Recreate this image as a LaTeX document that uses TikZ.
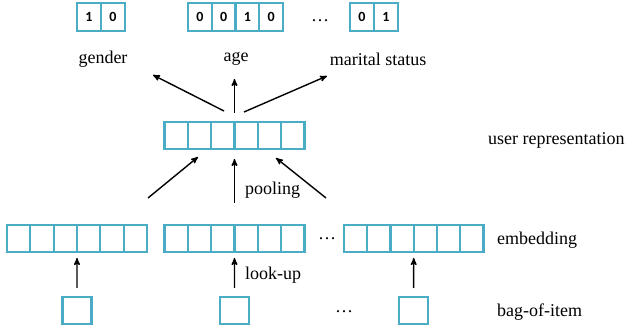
\documentclass[tikz,border=0pt]{standalone}
\usepackage{fontspec}
\setmainfont{Liberation Serif}
\newfontfamily\txtfont{Liberation Serif}
\newfontfamily\bitfont{Carlito}
\usepackage{tikz}
\usetikzlibrary{arrows,positioning}
\usetikzlibrary{calc}
\definecolor{boxblue}{RGB}{75,172,198}
\tikzstyle{repnet}=[x=1pt,y=-1pt,font=\txtfont\fontsize{18}{22}\selectfont]
\tikzstyle{cell}=[rectangle, draw=boxblue,% one slot of a vector
line width=2.2pt,minimum width=23.33pt,minimum height=27pt,inner sep=0pt,outer sep=0pt]
\tikzstyle{bit}=[cell,minimum width=24pt,minimum height=28pt,font=\bitfont\bfseries\fontsize{14}{16}\selectfont]
\tikzstyle{item}=[cell,minimum width=29pt]
\tikzstyle{lbl}=[inner sep=0pt]
\tikzstyle{arr}=[-stealth',line width=1.4pt]

\begin{document}
\begin{tikzpicture}[repnet]
\useasboundingbox (0,0) rectangle (634,328);
%\node at (300,0) {user model};
% one-hot targets
\foreach \d [count=\i] in {1,0} \node[bit] (g\i) at ({77+24*(\i-0.5)},17) {\d};
\foreach \d [count=\i] in {0,0,1,0} \node[bit] (a\i) at ({188+23.75*(\i-0.5)},17) {\d};
\foreach \d [count=\i] in {0,1} \node[bit] (m\i) at ({350+24*(\i-0.5)},17) {\d};
\node[lbl] (topdots) at (320,21) {\ldots};
\node[lbl] (gender) at (103,59) {gender};
\node[lbl] (age) at (236,59) {age};
\node[lbl] (marital) at (378,59) {marital status};
% user representation
\foreach \i in {1,...,6} \node[cell] (u\i) at ({164.5+23.33*(\i-0.5)},135.5) {};
\node[lbl,anchor=west] (userlbl) at (488,140) {user representation};
% embeddings
\foreach \i in {1,...,6} \node[cell] (e1-\i) at ({7+23.33*(\i-0.5)},238.5) {};
\foreach \i in {1,...,6} \node[cell] (e2-\i) at ({164.5+23.33*(\i-0.5)},238.5) {};
\foreach \i in {1,...,6} \node[cell] (e3-\i) at ({344+23.25*(\i-0.5)},238.5) {};
\node[lbl] (embdots) at (327,239) {\ldots};
\node[lbl,anchor=west] (emblbl) at (497,240) {embedding};
% items
\node[item] (b1) at (77,310.5) {};
\node[item] (b2) at (234.5,310.5) {};
\node[item] (b3) at (413.5,310.5) {};
\node[lbl] (itemdots) at (344,312) {\ldots};
\node[lbl,anchor=west] (itemlbl) at (497,312) {bag-of-item};
% arrow ends
\coordinate (tg) at (153,75); \coordinate (tm) at (327,76);
\coordinate (sg) at (224,111); \coordinate (sm) at (244,112);
\coordinate (pl) at (148,198); \coordinate (pr) at (326,198);
\coordinate (ql) at (198,157); \coordinate (qr) at (276,158);
\draw[arr] (sg) -- (tg); \draw[arr] (sm) -- (tm);
\draw[arr,shorten <=9pt] (u3.north east) -- ++(0,-43);
\draw[arr] (pl) -- (ql); \draw[arr] (pr) -- (qr);
\draw[arr,shorten <=22pt,shorten >=10pt] (e2-3.north east) -- (u3.south east);
\node[lbl,anchor=west] (pool) at (245,190) {pooling};
\draw[arr,shorten <=9pt,shorten >=6pt] (b1.north) -- (e1-3.south east);
\draw[arr,shorten <=9pt,shorten >=6pt] (b2.north) -- (e2-3.south east);
\draw[arr,shorten <=9pt,shorten >=6pt] (b3.north) -- (e3-3.south east);
\node[lbl,anchor=west] (lookup) at (245,275) {look-up};
\end{tikzpicture}
\end{document}
